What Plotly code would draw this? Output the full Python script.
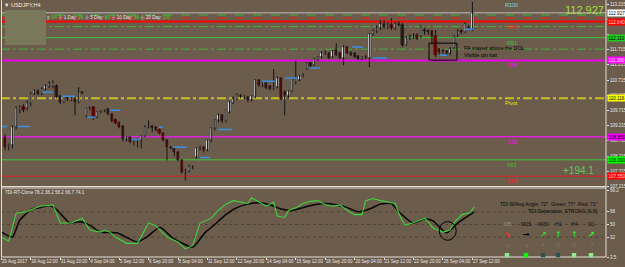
import plotly.graph_objects as go

# ---------------- data ----------------
bar_open = [108.829, 108.499, 108.565, 109.159, 109.720, 109.819, 109.786, 109.951,
            110.281, 110.347, 110.248, 110.413, 110.512, 110.512, 110.512, 110.182,
            109.984, 110.116, 110.050, 110.116, 109.984, 110.314, 109.522, 109.786,
            109.819, 109.489, 109.654, 109.687, 109.753, 109.588, 109.390, 109.291,
            109.192, 108.763, 108.829, 108.697, 108.730, 108.730, 108.862, 109.159,
            109.192, 109.159, 109.060, 108.961, 108.730, 108.499, 108.466, 108.334,
            108.070, 107.674, 107.707, 107.839, 108.169, 108.466, 108.499, 108.400,
            108.730, 109.126, 109.390, 109.555, 109.357, 109.654, 109.951, 110.083,
            110.182, 110.149, 110.149, 110.050, 110.149, 110.710, 110.545, 110.611,
            110.512, 110.413, 110.479, 110.776, 110.314, 110.182, 110.347, 110.644,
            110.710, 110.842, 111.073, 111.271, 111.205, 111.370, 111.469, 111.601,
            111.601, 111.469, 111.700, 111.601, 111.436, 111.799, 111.601, 111.601,
            111.502, 111.403, 111.469, 111.436, 112.228, 112.327, 112.426, 112.558,
            112.459, 112.525, 112.426, 112.558, 112.525, 111.865, 112.096, 112.129,
            112.195, 112.162, 112.360, 112.327, 112.327, 112.162, 111.733, 111.667,
            111.667, 111.601, 111.766, 112.195, 112.327, 112.294, 112.459, 112.393]
bar_close = [108.499, 108.565, 109.159, 109.786, 109.819, 109.720, 109.951, 110.248,
             110.347, 110.248, 110.413, 110.512, 110.578, 110.611, 110.149, 109.984,
             110.149, 110.083, 110.116, 109.984, 110.314, 110.300, 109.786, 109.819,
             109.489, 109.654, 109.687, 109.720, 109.588, 109.357, 109.291, 109.159,
             108.763, 108.829, 108.664, 108.730, 108.763, 108.862, 109.159, 109.192,
             109.126, 109.060, 108.961, 108.730, 108.499, 108.466, 108.334, 108.070,
             107.674, 107.707, 107.839, 107.850, 108.466, 108.499, 108.400, 108.730,
             109.126, 109.390, 109.555, 109.357, 109.720, 109.984, 110.083, 110.215,
             110.190, 110.182, 110.050, 110.182, 110.710, 110.545, 110.644, 110.446,
             110.413, 110.479, 110.776, 110.083, 110.215, 110.347, 110.743, 110.776,
             110.842, 110.875, 111.271, 111.172, 111.403, 111.469, 111.601, 111.634,
             111.436, 111.667, 111.535, 111.436, 111.799, 111.601, 111.535, 111.469,
             111.403, 111.469, 111.460, 112.228, 112.327, 112.426, 112.558, 112.459,
             112.525, 112.426, 112.558, 112.525, 111.865, 112.096, 112.129, 112.162,
             112.063, 112.459, 112.327, 112.294, 112.162, 111.535, 111.634, 111.660,
             111.601, 111.733, 112.162, 112.327, 112.294, 112.558, 112.426, 112.927]
bar_high = [108.928, 108.631, 109.225, 109.852, 109.885, 109.918, 110.050, 110.314,
            110.413, 110.413, 110.479, 110.578, 110.677, 110.710, 110.578, 110.215,
            110.182, 110.149, 110.149, 110.149, 110.479, 110.347, 109.819, 109.852,
            109.852, 109.687, 109.720, 109.753, 109.786, 109.621, 109.456, 109.357,
            109.225, 108.862, 108.862, 108.763, 108.796, 108.895, 109.225, 109.390,
            109.225, 109.192, 109.126, 108.994, 108.763, 108.532, 108.499, 108.367,
            108.103, 107.806, 107.938, 107.905, 108.499, 108.565, 108.532, 108.763,
            109.159, 109.423, 109.621, 109.588, 109.753, 110.017, 110.182, 110.281,
            110.248, 110.215, 110.182, 110.215, 110.743, 110.743, 110.677, 110.644,
            110.545, 111.073, 110.842, 110.809, 110.380, 110.380, 110.776, 111.370,
            110.875, 110.941, 111.304, 111.304, 111.436, 111.502, 111.667, 111.700,
            111.634, 111.700, 111.931, 111.634, 111.865, 111.832, 111.667, 111.634,
            111.535, 111.502, 111.535, 112.261, 112.393, 112.525, 112.690, 112.690,
            112.624, 112.756, 112.657, 112.657, 112.591, 112.162, 112.228, 112.261,
            112.261, 112.525, 112.426, 112.393, 112.360, 112.360, 111.766, 111.733,
            111.700, 111.799, 112.195, 112.393, 112.393, 112.624, 112.525, 113.284]
bar_low = [108.400, 108.400, 108.466, 109.093, 109.621, 109.654, 109.720, 109.852,
           110.215, 110.215, 110.215, 110.380, 110.446, 110.446, 110.116, 109.918,
           109.951, 110.017, 110.017, 109.555, 109.951, 110.248, 109.489, 109.720,
           109.390, 109.456, 109.621, 109.654, 109.555, 109.324, 109.258, 109.126,
           108.697, 108.697, 108.631, 108.565, 108.499, 108.466, 108.829, 109.126,
           108.994, 109.027, 108.928, 108.697, 108.070, 108.433, 108.202, 108.037,
           107.641, 107.410, 107.674, 107.773, 108.136, 108.400, 108.334, 108.367,
           108.664, 109.060, 109.324, 109.291, 109.324, 109.621, 109.918, 110.050,
           110.116, 110.083, 109.984, 110.017, 110.116, 110.479, 110.479, 110.413,
           110.380, 110.380, 110.446, 110.050, 109.555, 110.116, 110.314, 110.578,
           110.677, 110.809, 111.040, 111.139, 111.172, 111.337, 111.436, 111.535,
           111.403, 111.436, 111.502, 111.403, 111.205, 111.568, 111.502, 111.436,
           111.370, 111.370, 111.403, 111.139, 112.162, 112.261, 112.360, 112.393,
           112.393, 112.360, 112.360, 112.459, 111.799, 111.832, 112.030, 112.063,
           112.030, 112.096, 112.195, 112.195, 111.898, 111.469, 111.568, 111.568,
           111.535, 111.535, 111.733, 112.129, 112.228, 112.261, 112.360, 112.327]
bar_index = list(range(1, len(bar_open) + 1))

x_tick_bars = [0, 8, 16, 24, 32, 40, 48, 56, 64, 72, 80, 88, 96, 104, 112, 120, 128]
x_tick_labels = ["29 Aug 2017", "30 Aug 12:00", "31 Aug 20:00", "4 Sep 04:00", "5 Sep 12:00",
                 "6 Sep 20:00", "8 Sep 04:00", "11 Sep 12:00", "12 Sep 20:00", "14 Sep 04:00",
                 "15 Sep 12:00", "18 Sep 20:00", "20 Sep 04:00", "21 Sep 12:00", "22 Sep 20:00",
                 "26 Sep 04:00", "27 Sep 12:00"]

main_tick_vals = [107.215, 107.715, 108.215, 108.715, 109.215, 109.715, 110.215,
                  110.715, 111.215, 111.715, 112.215, 112.715, 113.215]
main_tick_hidden = [112.215, 112.715]   # covered by price boxes in the original
tdi_tick_vals = [99.2, 68, 50, 32, 3.5]
tdi_tick_text = ["99.2", "68", "50", "32", "3.5"]
tdi_levels = [68, 50, 32]

# support/resistance lines
level_prices = [112.855, 112.756, 112.640, 112.475, 112.110, 111.733, 111.360,
                110.116, 108.850, 108.090, 107.550]
level_names = ["R100", "R78", "R61", "R38", "Pivot", "S38", "S61", "S78"]
level_name_prices = [113.35, 112.640, 112.110, 111.360, 110.116, 108.850, 108.090, 107.550]
box_prices = [112.927, 112.640, 112.110, 111.360, 110.116, 108.850, 108.090, 107.550]
current_price = 112.927

# short blue segments
blue_x0 = [-0.37, 4.5, 11.3, 16.5, 23.5, 29.5, 35.5, 42.8, 46.6, 54.0, 58.9, 70.8, 77.1, 83.9, 95.3, 101.0, 119.2, 126.0]
blue_x1 = [1.53, 7.8, 14.0, 20.0, 25.4, 32.2, 37.7, 43.9, 50.4, 56.7, 62.7, 74.4, 80.3, 86.6, 98.3, 104.8, 121.1, 128.2]
blue_y = [109.19, 109.19, 110.31, 110.18, 109.49, 109.72, 108.76, 109.16, 108.50, 108.17,
          109.09, 110.68, 110.78, 111.11, 111.80, 111.44, 111.53, 112.39]

# TDI indicator
tdi_green_bar = [0, 2, 4, 7, 8, 10.5, 14, 16, 19, 22, 24, 27, 28, 29.5, 31, 34, 37, 40, 42, 45,
                 48, 50, 52, 54, 57, 59, 61, 63, 65, 67, 68, 70, 72, 74, 75, 77, 78, 80, 82, 84,
                 86, 88, 90, 92, 94, 96, 98, 99, 101, 103, 105, 107, 108.3, 109.6, 111.8, 115.1,
                 117.3, 120, 121.9, 123.2, 125.1, 127.3, 128.5]
tdi_green = [32, 26, 66, 68, 71, 76, 78, 52, 52, 59, 42, 39, 42, 39, 32, 23, 23, 52, 48, 32,
             25, 15, 20, 52, 59, 70, 79, 84, 82, 80, 88, 82, 76, 82, 62, 60, 70, 74, 80, 83,
             84, 78, 76, 78, 70, 64, 64, 84, 87, 84, 82, 80, 62, 49, 52, 59,
             45, 39, 42, 53.6, 63.7, 66.6, 75]
tdi_black_bar = [0, 3, 5, 8.3, 10.5, 13.2, 15.1, 18.6, 21.3, 24, 26.8, 31.4, 36.8, 39.5, 43.1,
                 46.6, 52, 55.3, 58, 61, 64, 67, 70, 73, 76, 79, 82, 85, 88, 91, 94, 97, 100,
                 103, 106, 108.3, 111.8, 115.1, 117.3, 121, 124, 128.5]
tdi_black = [39, 32, 56, 72, 74, 77, 71, 52, 54, 49, 39, 38, 25, 32, 46,
             30.5, 17.6, 38, 50, 64, 74, 79, 81, 78, 72, 70, 74, 78, 80, 78, 74, 68, 72,
             79, 80, 66.6, 52, 58, 55, 38, 52, 68]

tf_names = ["M5", "M15", "M30", "H1", "H4", "D1"]
tf_arrows = ["↘", "→", "↗", "↑", "↑", "↗"]
tf_icons = ["↘", "↘", "•", "⊙", "⊙", "↗"]
header_text = ("y: <span style='color:#33DD33'>54</span> -|- 1 Day: <span style='color:#33DD33'>96</span>"
               " -|- 5 Day: <span style='color:#33DD33'>80</span> -|- 10 Day: <span style='color:#33DD33'>88</span>"
               " -|- 20 Day: <span style='color:#33DD33'>100</span>")
tdi_title = "TDI-RT-Clone 78.2 38.2 58.2 66.7 74.1"
tdi_angle = "TDI W/Avg Angle: 72°  Green: 77°  Red: 71°"
tdi_sep = "TDI Seperation: STRONG [6.8]"
note_text = "PA stayed above the DOL.<br>Visible pin bar."
pips_text = "+194.1"

# ---------------- styles ----------------
W, H = 625, 267
BG = "#6C5C4B"
FONT = "Liberation Sans, DejaVu Sans, sans-serif"
level_styles = [
    dict(color="#3CB83C", dash="dash", width=1),
    dict(color="#FF1010", dash="dash", width=1),
    dict(color="#FF0000", dash="solid", width=2),
    dict(color="#3CB83C", dash="dashdot", width=1),
    dict(color="#3CC83C", dash="solid", width=1),
    dict(color="#3CB83C", dash="dashdot", width=1),
    dict(color="#F000F0", dash="solid", width=2),
    dict(color="#C8C020", dash="dashdot", width=2),
    dict(color="#E020E0", dash="solid", width=1.5),
    dict(color="#3CC83C", dash="solid", width=1),
    dict(color="#E02020", dash="solid", width=1),
]
name_colors = ["#80D8E0", "#FF2020", "#33CC33", "#FF00FF", "#E8E800", "#FF00FF", "#33CC33", "#FF2020"]
box_bg = ["#FFFFFF", "#FF0000", "#22CC22", "#FF00FF", "#FFFF00", "#FF00FF", "#00FF00", "#FF0000"]
box_fg = ["#000000", "#FFD8D8", "#000000", "#FFE0FF", "#000000", "#000000", "#000000", "#FFD8D8"]
tf_name_colors = ["#A09488", "#101010", "#101010", "#101010", "#101010", "#101010"]
tf_arrow_colors = ["#FF2A2A", "#000000", "#33DD33", "#33DD33", "#33DD33", "#22FF22"]
tf_square_colors = ["#8CEB8C", "#00FF00", "#2F5050", "#2F5050", "#8CEB8C", "#8CEB8C"]
tf_px = [507, 526, 543, 558, 574, 591]


def px(p):
    return p / W


def py(p):
    return 1 - p / H


fig = go.Figure()

# wicks
wx, wy = [], []
for i, h, l in zip(bar_index, bar_high, bar_low):
    wx += [i, i, None]
    wy += [l, h, None]
fig.add_trace(go.Scatter(x=wx, y=wy, mode="lines", line=dict(color="#141414", width=1),
                         xaxis="x", yaxis="y", hoverinfo="skip", showlegend=False))

# bodies
body_colors = ["#F4F4F4" if c >= o else "#8B0000" for o, c in zip(bar_open, bar_close)]
fig.add_trace(go.Bar(x=bar_index, y=[c - o for o, c in zip(bar_open, bar_close)], base=bar_open,
                     width=0.62, marker=dict(color=body_colors, line=dict(color="#1a1a1a", width=0.5)),
                     xaxis="x", yaxis="y", showlegend=False, hoverinfo="skip"))

# blue segments
bx, by = [], []
for a, b, v in zip(blue_x0, blue_x1, blue_y):
    bx += [a, b, None]
    by += [v, v, None]
fig.add_trace(go.Scatter(x=bx, y=by, mode="lines", line=dict(color="#3A8EE6", width=1.5),
                         xaxis="x", yaxis="y", hoverinfo="skip", showlegend=False))

# TDI
fig.add_trace(go.Scatter(x=tdi_black_bar, y=tdi_black, mode="lines",
                         line=dict(color="#050505", width=1.5, shape="spline", smoothing=0.5),
                         xaxis="x", yaxis="y2", showlegend=False, hoverinfo="skip"))
fig.add_trace(go.Scatter(x=tdi_green_bar, y=tdi_green, mode="lines",
                         line=dict(color="#3ED43E", width=1.1),
                         xaxis="x", yaxis="y2", showlegend=False, hoverinfo="skip"))

shapes = []
for p, st in zip(level_prices, level_styles):
    shapes.append(dict(type="line", xref="x domain", x0=0, x1=1, yref="y", y0=p, y1=p,
                       line=st, layer="below"))
shapes.append(dict(type="line", xref="x domain", x0=0, x1=1, yref="y", y0=current_price, y1=current_price,
                   line=dict(color="#BEBEBE", width=1), layer="below"))
for v in tdi_levels:
    shapes.append(dict(type="line", xref="x domain", x0=0, x1=1, yref="y2", y0=v, y1=v,
                       line=dict(color="#4E4236", width=1, dash="dot"), layer="below"))
shapes.append(dict(type="rect", xref="x", yref="y", x0=116.2, x1=123.8, y0=111.37, y1=111.93,
                   line=dict(color="#000000", width=1)))
shapes.append(dict(type="circle", xref="x", yref="y2", x0=119.0, x1=123.6, y0=27.4, y1=54.2,
                   line=dict(color="#000000", width=1)))
shapes.append(dict(type="rect", xref="paper", yref="paper", x0=px(5), x1=px(46), y0=py(45), y1=py(10),
                   fillcolor="#7A785A", line=dict(width=0)))
FR = "#E2DED8"
for (x0, y0, x1, y1) in [(1.5, 0, 1.5, 257), (606, 0, 606, 257), (1.5, 186.5, 606, 186.5),
                         (1.5, 188, 606, 188), (1.5, 257, 606, 257)]:
    shapes.append(dict(type="line", xref="paper", yref="paper", x0=px(x0), x1=px(x1), y0=py(y0), y1=py(y1),
                       line=dict(color=FR, width=1)))
for xp, col in zip(tf_px, tf_square_colors):
    shapes.append(dict(type="rect", xref="paper", yref="paper", x0=px(xp - 2.2), x1=px(xp + 2.2),
                       y0=py(257.3), y1=py(253), fillcolor=col, line=dict(width=0)))

ann = []
ann.append(dict(text="▼ USDJPY,H4", xref="paper", yref="paper", x=px(2), y=py(5), xanchor="left",
                yanchor="middle", showarrow=False, font=dict(size=5.5, color="#F0F0F0", family=FONT)))
ann.append(dict(text=header_text, xref="paper", yref="paper", x=px(45), y=py(17), xanchor="left",
                yanchor="middle", showarrow=False, font=dict(size=4.6, color="#E8E8E8", family=FONT)))
for n, p, c in zip(level_names, level_name_prices, name_colors):
    ann.append(dict(text=n, xref="x", yref="y", x=138.7, y=p, xanchor="center", yanchor="top",
                    showarrow=False, font=dict(size=5.5, color=c, family=FONT)))
for p, bg, fg in zip(box_prices, box_bg, box_fg):
    ann.append(dict(text=f"{p:.3f}", xref="paper", yref="y", x=px(607), y=p, xanchor="left",
                    yanchor="middle", showarrow=False, bgcolor=bg, borderpad=0.5,
                    font=dict(size=4.6, color=fg, family=FONT)))
ann.append(dict(text=f"{current_price:.3f}", xref="paper", yref="paper", x=px(606), y=py(10),
                xanchor="right", yanchor="middle", showarrow=False,
                font=dict(size=11, color="#A6DC3C", family=FONT)))
ann.append(dict(text=pips_text, xref="paper", yref="paper", x=px(596), y=py(170), xanchor="right",
                yanchor="middle", showarrow=False, font=dict(size=10, color="#5CCB5C", family=FONT)))
ann.append(dict(text=note_text, xref="x", yref="y", x=125.1, y=111.93, xanchor="left", yanchor="top",
                align="left", showarrow=False, font=dict(size=5.3, color="#000000", family=FONT)))
ann.append(dict(text=tdi_title, xref="paper", yref="paper", x=px(3), y=py(192), xanchor="left",
                yanchor="middle", showarrow=False, font=dict(size=4.6, color="#E8E8E8", family=FONT)))
ann.append(dict(text=tdi_angle, xref="paper", yref="paper", x=px(600), y=py(204), xanchor="right",
                yanchor="middle", showarrow=False, font=dict(size=5, color="#0A0A0A", family=FONT)))
ann.append(dict(text=tdi_sep, xref="paper", yref="paper", x=px(600), y=py(211), xanchor="right",
                yanchor="middle", showarrow=False, font=dict(size=5, color="#0A0A0A", family=FONT)))
for xp, n, nc, a, ac, ic in zip(tf_px, tf_names, tf_name_colors, tf_arrows, tf_arrow_colors, tf_icons):
    ann.append(dict(text=n, xref="paper", yref="paper", x=px(xp), y=py(224), xanchor="center",
                    yanchor="middle", showarrow=False, font=dict(size=5.3, color=nc, family=FONT)))
    ann.append(dict(text=f"<b>{a}</b>", xref="paper", yref="paper", x=px(xp), y=py(234), xanchor="center",
                    yanchor="middle", showarrow=False, font=dict(size=8, color=ac, family="DejaVu Sans")))
    ann.append(dict(text=ic, xref="paper", yref="paper", x=px(xp), y=py(244), xanchor="center",
                    yanchor="middle", showarrow=False, font=dict(size=6, color="#85786B", family="DejaVu Sans")))

main_tick_text = ["" if v in main_tick_hidden else f"{v:.3f}" for v in main_tick_vals]

fig.update_layout(
    width=W, height=H, autosize=False,
    margin=dict(l=0, r=0, t=0, b=0, pad=0),
    paper_bgcolor=BG, plot_bgcolor=BG,
    showlegend=False, bargap=0,
    font=dict(family=FONT, size=5, color="#E8E8E8"),
    xaxis=dict(domain=[px(1), px(606)], range=[-0.1, 164.3], anchor="y2",
               tickmode="array", tickvals=x_tick_bars, ticktext=x_tick_labels, tickangle=0,
               ticklabelposition="outside right", ticks="outside", ticklen=2, tickcolor="#E0E0E0",
               tickfont=dict(size=4.5, color="#E8E8E8", family=FONT),
               showgrid=False, zeroline=False, showline=False, automargin=False, fixedrange=True),
    yaxis=dict(domain=[py(186.5), 1], range=[107.212, 113.35], anchor="x", side="right",
               tickmode="array", tickvals=main_tick_vals, ticktext=main_tick_text,
               ticks="outside", ticklen=2, tickcolor="#E0E0E0",
               tickfont=dict(size=4.5, color="#E8E8E8", family=FONT),
               showgrid=False, zeroline=False, showline=False, automargin=False),
    yaxis2=dict(domain=[py(257), py(190)], range=[3.5, 99.2], anchor="x", side="right",
                tickmode="array", tickvals=tdi_tick_vals, ticktext=tdi_tick_text,
                ticks="outside", ticklen=2, tickcolor="#E0E0E0",
                tickfont=dict(size=4.5, color="#E8E8E8", family=FONT),
                showgrid=False, zeroline=False, showline=False, automargin=False),
    shapes=shapes, annotations=ann,
)

fig.write_html("out.html")
